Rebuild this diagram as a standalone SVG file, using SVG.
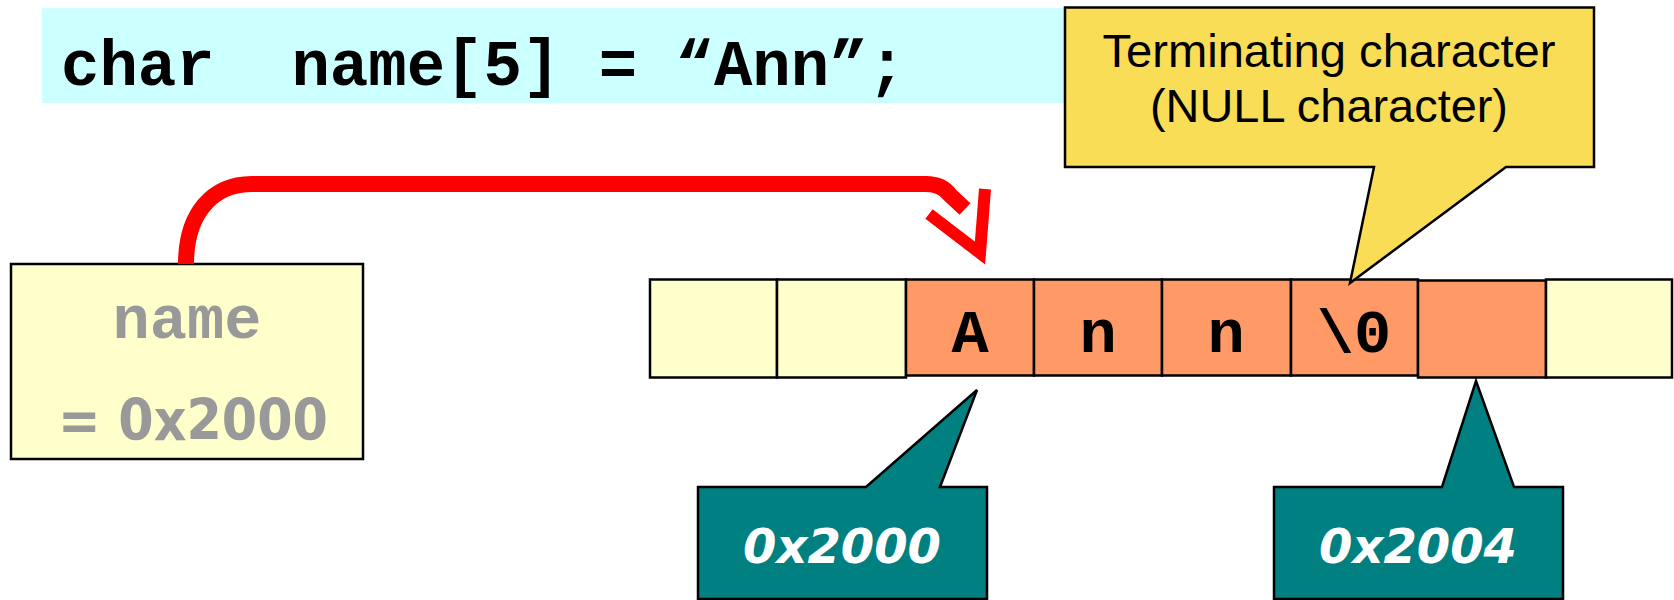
<svg xmlns="http://www.w3.org/2000/svg" width="1674" height="600" viewBox="0 0 1674 600">
  <style>
    .mono { font-family: "Liberation Mono", "Courier New", monospace; font-weight: bold; }
    .sans { font-family: "Liberation Sans", Arial, sans-serif; }
    .wide { font-family: "DejaVu Sans", Verdana, sans-serif; font-weight: bold; }
    .cell { stroke: #000; stroke-width: 2.5; }
    .empty { fill: #FFFFCC; }
    .used { fill: #FF9966; }
    .ch { font-size: 62px; fill: #000; text-anchor: middle; }
    .addr { fill: #008080; stroke: #000; stroke-width: 2.5; stroke-linejoin: miter; }
    .addr-text { font-size: 48px; font-style: italic; fill: #FFFFFF; text-anchor: middle; }
    .wire { fill: none; stroke: #FF0000; }
  </style>

  <!-- declaration banner -->
  <g id="declaration">
    <rect x="42" y="8" width="1060" height="95" fill="#CCFFFF"/>
    <text class="mono" x="61" y="85" font-size="64" fill="#000" style="white-space:pre">char  name[5] = “Ann”;</text>
  </g>

  <!-- the array variable -->
  <g id="name-var">
    <rect x="11" y="264" width="352" height="195" fill="#FFFFCC" stroke="#000" stroke-width="2.5"/>
    <text class="mono" x="187" y="338" font-size="62" fill="#999999" text-anchor="middle">name</text>
    <text class="wide" x="58" y="440" font-size="57" fill="#999999" textLength="270" lengthAdjust="spacingAndGlyphs">= 0x2000</text>
  </g>

  <!-- memory row -->
  <g id="memory">
    <g id="cell-0"><rect class="cell empty" x="650" y="279.5" width="127" height="98"/></g>
    <g id="cell-1"><rect class="cell empty" x="777" y="279.5" width="129" height="98"/></g>
    <g id="cell-A"><rect class="cell used" x="906" y="279.5" width="128" height="96"/><text class="mono ch" x="970" y="352">A</text></g>
    <g id="cell-n1"><rect class="cell used" x="1034" y="279.5" width="128" height="96"/><text class="mono ch" x="1098" y="352">n</text></g>
    <g id="cell-n2"><rect class="cell used" x="1162" y="279.5" width="129" height="96"/><text class="mono ch" x="1226" y="352">n</text></g>
    <g id="cell-nul"><rect class="cell used" x="1291" y="279.5" width="127" height="96"/><text class="mono ch" x="1354" y="352">\0</text></g>
    <g id="cell-4"><rect class="cell used" x="1418" y="280.5" width="128" height="97"/></g>
    <g id="cell-5"><rect class="cell empty" x="1546" y="279.5" width="126" height="98"/></g>
  </g>

  <!-- terminating-character callout -->
  <g id="null-callout">
    <path d="M1065,7.5 H1594 V167 H1506 L1350,283 L1374,167 H1065 Z" fill="#F9DD57" stroke="#000" stroke-width="2.5"/>
    <text class="sans" x="1329" y="67" font-size="46" fill="#000" text-anchor="middle" textLength="453" lengthAdjust="spacingAndGlyphs">Terminating character</text>
    <text class="sans" x="1329" y="122" font-size="46" fill="#000" text-anchor="middle" textLength="358" lengthAdjust="spacingAndGlyphs">(NULL character)</text>
  </g>

  <!-- address callouts -->
  <g id="addr-2000">
    <path class="addr" d="M698,487 H866 L977,390 L940,487 H987 V599 H698 Z"/>
    <text class="wide addr-text" x="842" y="563">0x2000</text>
  </g>
  <g id="addr-2004">
    <path class="addr" d="M1274,487 H1442 L1476,381 L1514,487 H1563 V599 H1274 Z"/>
    <text class="wide addr-text" x="1418" y="563">0x2004</text>
  </g>

  <!-- pointer from name to the first element -->
  <g id="connectors">
    <path class="wire" stroke-width="16" d="M186,264 C186,214 212,184 252,184 H926 Q942,184 950,195 L965,209"/>
    <polyline class="wire" stroke-width="12" stroke-miterlimit="10" points="929,214 980,253 985,189"/>
  </g>
</svg>
